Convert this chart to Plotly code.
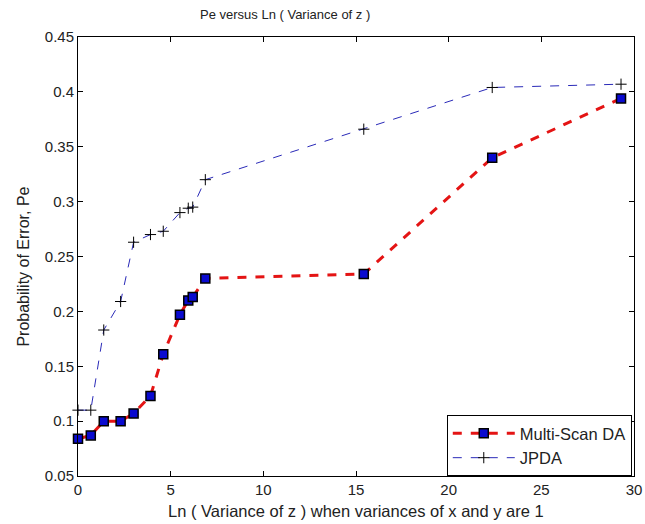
import plotly.graph_objects as go

# Ln(variance of z) sample points shared by both trackers
ln_var_z = [0, 0.69, 1.39, 2.30, 3.00, 3.91, 4.60, 5.50, 5.95, 6.19, 6.87, 15.42, 22.35, 29.30]

# Probability of error for each method
pe_multiscan = [0.084, 0.087, 0.100, 0.100, 0.107, 0.123, 0.161, 0.197, 0.210, 0.213, 0.230, 0.234, 0.340, 0.394]
pe_jpda = [0.110, 0.110, 0.183, 0.209, 0.263, 0.270, 0.273, 0.290, 0.294, 0.295, 0.320, 0.366, 0.404, 0.407]

x_ticks = [0, 5, 10, 15, 20, 25, 30]
y_ticks = [0.05, 0.1, 0.15, 0.2, 0.25, 0.3, 0.35, 0.4, 0.45]
y_tick_text = ["0.05", "0.1", "0.15", "0.2", "0.25", "0.3", "0.35", "0.4", "0.45"]

FONT = "Liberation Sans, Arial, sans-serif"
TEXT = "#222222"

fig = go.Figure()

fig.add_trace(go.Scatter(
    x=ln_var_z, y=pe_multiscan, name="Multi-Scan DA",
    mode="lines+markers",
    line=dict(color="#e41414", width=3, dash="dash"),
    marker=dict(symbol="square", size=9, color="#0a0ad0",
                line=dict(color="black", width=1.5)),
    cliponaxis=False,
))

fig.add_trace(go.Scatter(
    x=ln_var_z, y=pe_jpda, name="JPDA",
    mode="lines+markers",
    line=dict(color="#2a2ab8", width=1, dash="dash"),
    marker=dict(symbol="cross-thin", size=8, color="black",
                line=dict(color="black", width=1)),
    cliponaxis=False,
))

axis_common = dict(
    showline=True, linecolor="black", linewidth=1, mirror="ticks",
    ticks="inside", ticklen=5, tickcolor="black", showgrid=False,
    zeroline=False, automargin=False,
    tickfont=dict(family=FONT, size=15, color=TEXT),
)

# Title and axis labels are placed as paper-anchored annotations
labels = [
    dict(text="Pe versus Ln ( Variance of z )",
         x=0.373, y=1, xanchor="center", yanchor="middle", yshift=23,
         font=dict(family=FONT, size=13, color=TEXT)),
    dict(text="Ln ( Variance of z ) when variances of x and y are 1",
         x=0.5, y=0, xanchor="center", yanchor="middle", yshift=-35,
         font=dict(family=FONT, size=16.5, color=TEXT)),
    dict(text="Probability of Error, Pe", textangle=-90,
         x=0, y=0.477, xanchor="center", yanchor="middle", xshift=-54,
         font=dict(family=FONT, size=16, color=TEXT)),
]
for a in labels:
    a.update(xref="paper", yref="paper", showarrow=False)

fig.update_layout(
    width=645, height=524,
    margin=dict(l=78, r=11, t=37, b=48),
    paper_bgcolor="white", plot_bgcolor="white",
    xaxis=dict(range=[0, 30], tickvals=x_ticks, **axis_common),
    yaxis=dict(range=[0.05, 0.45], tickvals=y_ticks, ticktext=y_tick_text,
               **axis_common),
    annotations=labels,
    legend=dict(x=0.996, y=0.0, xanchor="right", yanchor="bottom",
                bgcolor="white", bordercolor="black", borderwidth=1,
                font=dict(family=FONT, size=16.5, color=TEXT),
                itemwidth=62, tracegroupgap=0),
    showlegend=True,
)

fig.write_html("out.html")
